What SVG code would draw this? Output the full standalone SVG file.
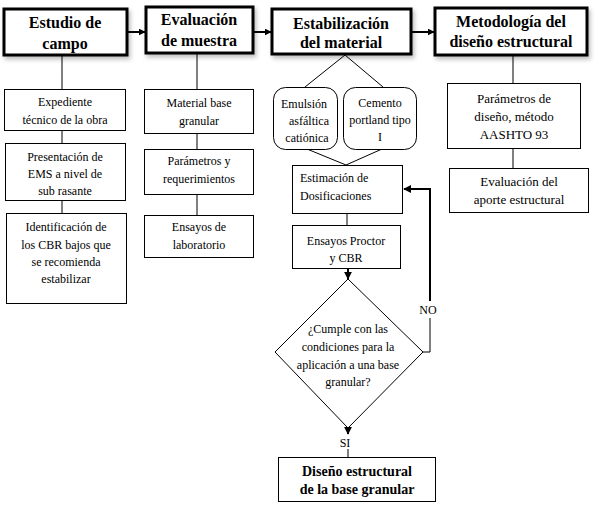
<svg xmlns="http://www.w3.org/2000/svg" width="595" height="514" viewBox="0 0 595 514">
<defs>
<style>
.main{fill:#fff;stroke:#000;stroke-width:3}
.box{fill:#fff;stroke:#000;stroke-width:1}
.ln{fill:none;stroke:#000;stroke-width:1}
.ar{fill:none;stroke:#000;stroke-width:2}
text{font-family:'Liberation Serif','Times New Roman','DejaVu Serif',serif;fill:#000;text-anchor:middle}
.tb{font-weight:bold;font-size:16px}
.t{font-size:12px}
.t13{font-size:13px}
.tb14{font-weight:bold;font-size:14px}
</style>
<filter id="sh" x="-10%" y="-10%" width="130%" height="140%">
<feDropShadow dx="2" dy="3" stdDeviation="2" flood-color="#000" flood-opacity="0.25"/>
</filter>
<marker id="ah" viewBox="0 0 10 10" refX="9" refY="5" markerWidth="7" markerHeight="7" orient="auto" markerUnits="userSpaceOnUse">
<path d="M0,0 L10,5 L0,10 z" fill="#000"/>
</marker>
<marker id="ah2" viewBox="0 0 10 10" refX="9" refY="5" markerWidth="8" markerHeight="8" orient="auto" markerUnits="userSpaceOnUse">
<path d="M0,0 L10,5 L0,10 z" fill="#000"/>
</marker>
</defs>
<rect width="595" height="514" fill="#fff"/>
<g id="connectors">
<line class="ar" x1="128" y1="32" x2="145" y2="32" marker-end="url(#ah)"/>
<line class="ar" x1="254" y1="32" x2="271" y2="32" marker-end="url(#ah)"/>
<line class="ar" x1="411" y1="32" x2="434" y2="32" marker-end="url(#ah)"/>
<line class="ln" x1="62" y1="55" x2="62" y2="89"/>
<line class="ln" x1="62" y1="130" x2="62" y2="143"/>
<line class="ln" x1="62" y1="200" x2="62" y2="213"/>
<line class="ln" x1="197" y1="53" x2="197" y2="89"/>
<line class="ln" x1="197" y1="133" x2="197" y2="149"/>
<line class="ln" x1="197" y1="194" x2="197" y2="215"/>
<line class="ln" x1="513" y1="55" x2="513" y2="83"/>
<line class="ln" x1="513" y1="148" x2="513" y2="168"/>
<polyline class="ln" points="305,87 345,55 383,87"/>
<polyline class="ln" points="307,149 346,165 382,149"/>
<line class="ln" x1="347" y1="213" x2="347" y2="225"/>
<line class="ar" x1="348" y1="268" x2="348" y2="279" marker-end="url(#ah2)"/>
<polyline class="ln" points="423,352 430,352 430,318"/>
<polyline class="ar" points="430,301 430,189 404,189" marker-end="url(#ah2)"/>
<line class="ar" x1="348" y1="426" x2="348" y2="434" marker-end="url(#ah2)"/>
<line class="ln" x1="348" y1="449" x2="348" y2="457"/>
</g>
<g id="n1"><rect class="main" x="4" y="9" width="123" height="46" filter="url(#sh)"/>
<text class="tb" x="65" y="28">Estudio de</text><text class="tb" x="65" y="49">campo</text></g>
<g id="n2"><rect class="main" x="146" y="7" width="107" height="46" filter="url(#sh)"/>
<text class="tb" x="199" y="25">Evaluación</text><text class="tb" x="199" y="46">de muestra</text></g>
<g id="n3"><rect class="main" x="272" y="9" width="139" height="45" filter="url(#sh)"/>
<text class="tb" x="341" y="29">Estabilización</text><text class="tb" x="341" y="48">del material</text></g>
<g id="n4"><rect class="main" x="435" y="8" width="152" height="47" filter="url(#sh)"/>
<text class="tb" x="511" y="27">Metodología del</text><text class="tb" x="511" y="47">diseño estructural</text></g>
<g id="n5"><rect class="box" x="4.5" y="89.5" width="121" height="41"/>
<text class="t" x="65" y="106">Expediente</text><text class="t" x="65" y="124">técnico de la obra</text></g>
<g id="n6"><rect class="box" x="5.5" y="143.5" width="120" height="57"/>
<text class="t" x="65" y="161">Presentación de</text><text class="t" x="65" y="178">EMS a nivel de</text><text class="t" x="65" y="195">sub rasante</text></g>
<g id="n7"><rect class="box" x="6.5" y="213.5" width="120" height="90"/>
<text class="t" x="66" y="231">Identificación de</text><text class="t" x="66" y="249">los CBR bajos que</text><text class="t" x="66" y="266">se recomienda</text><text class="t" x="66" y="283">estabilizar</text></g>
<g id="n8"><rect class="box" x="144.5" y="89.5" width="109" height="44"/>
<text class="t" x="199" y="107">Material base</text><text class="t" x="199" y="125">granular</text></g>
<g id="n9"><rect class="box" x="144.5" y="149.5" width="109" height="45"/>
<text class="t" x="199" y="165">Parámetros y</text><text class="t" x="199" y="183">requerimientos</text></g>
<g id="n10"><rect class="box" x="144.5" y="215.5" width="109" height="42"/>
<text class="t" x="199" y="231">Ensayos de</text><text class="t" x="199" y="249">laboratorio</text></g>
<g id="n11"><rect class="box" x="273.5" y="87.5" width="64" height="62" rx="12"/>
<text class="t" x="304" y="108">Emulsión</text><text class="t" x="309" y="125">asfáltica</text><text class="t" x="307" y="142">catiónica</text></g>
<g id="n12"><rect class="box" x="343.5" y="87.5" width="73" height="62" rx="12"/>
<text class="t" x="380" y="107">Cemento</text><text class="t" x="380" y="124">portland tipo</text><text class="t" x="380" y="141">I</text></g>
<g id="n13"><rect class="box" x="292.5" y="165.5" width="110" height="48"/>
<text class="t" x="300" y="182" style="text-anchor:start">Estimación de</text><text class="t" x="300" y="200" style="text-anchor:start">Dosificaciones</text></g>
<g id="n14"><rect class="box" x="292.5" y="225.5" width="108" height="43"/>
<text class="t" x="346" y="245">Ensayos Proctor</text><text class="t" x="346" y="262">y CBR</text></g>
<g id="n15"><polygon class="box" points="348,279 423,352 348,428 275,352"/>
<text class="t" x="348" y="333">¿Cumple con las</text><text class="t" x="348" y="351">condiciones para la</text><text class="t" x="348" y="369">aplicación a una base</text><text class="t" x="348" y="386">granular?</text></g>
<g id="n16"><rect class="box" x="278.5" y="457.5" width="157" height="44"/>
<text class="tb14" x="357" y="476">Diseño estructural</text><text class="tb14" x="357" y="494">de la base granular</text></g>
<g id="n17"><rect class="box" x="447.5" y="83.5" width="133" height="65"/>
<text class="t13" x="514" y="103">Parámetros de</text><text class="t13" x="514" y="121">diseño, método</text><text class="t13" x="514" y="139">AASHTO 93</text></g>
<g id="n18"><rect class="box" x="449.5" y="168.5" width="139" height="44"/>
<text class="t13" x="519" y="186">Evaluación del</text><text class="t13" x="519" y="204">aporte estructural</text></g>
<text class="t" x="428" y="314">NO</text>
<text class="t" x="345" y="447">SI</text>
</svg>
